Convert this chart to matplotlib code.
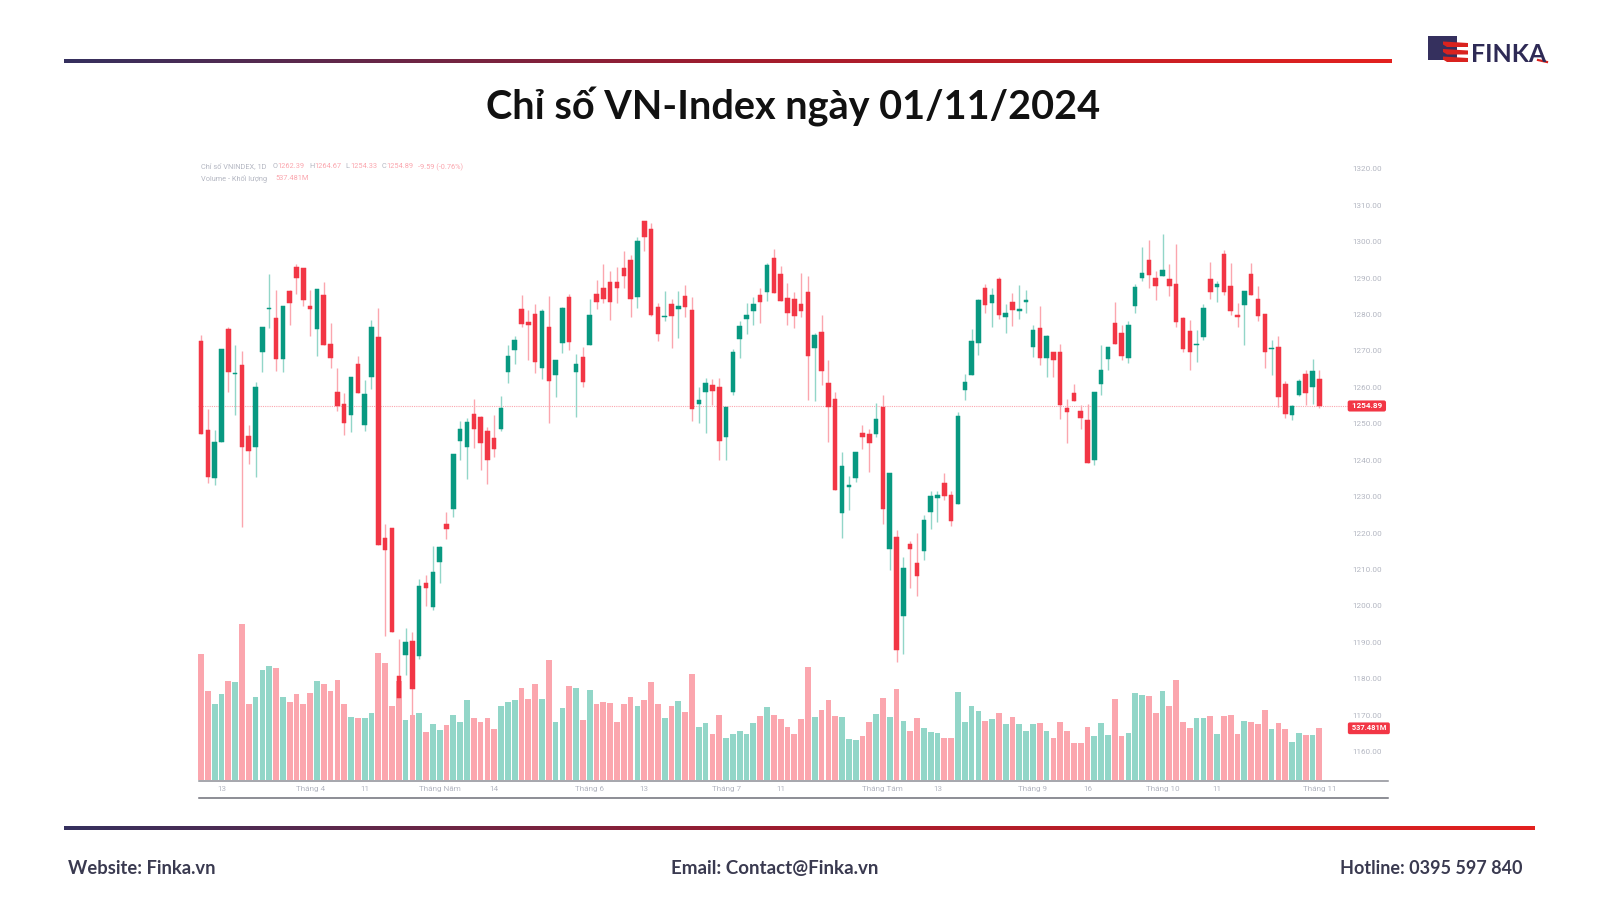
import numpy as np
import matplotlib
matplotlib.use('Agg')
import matplotlib.pyplot as plt
from matplotlib.colors import LinearSegmentedColormap
from matplotlib.patches import Polygon, Rectangle
from matplotlib.transforms import blended_transform_factory

# daily candles
opens = [1272.6, 1248.3, 1235.1, 1245.0, 1276.0, 1263.6, 1266.1, 1246.6, 1243.7, 1269.8, 1281.4, 1279.0, 1267.7, 1286.4, 1293.1,
         1292.7, 1282.3, 1276.1, 1285.3, 1271.9, 1258.6, 1255.4, 1252.3, 1266.4, 1249.8, 1262.8, 1273.9, 1218.6, 1221.4, 1180.8,
         1186.5, 1190.4, 1186.3, 1206.2, 1199.6, 1212.0, 1222.5, 1226.7, 1245.4, 1243.5, 1252.7, 1251.8, 1248.1, 1246.2, 1248.5,
         1264.3, 1270.2, 1281.6, 1277.9, 1280.2, 1265.4, 1276.7, 1263.3, 1272.1, 1284.7, 1264.3, 1268.4, 1271.7, 1285.5, 1287.2,
         1288.8, 1289.0, 1292.7, 1295.0, 1284.9, 1305.7, 1303.4, 1282.1, 1279.2, 1283.0, 1281.6, 1285.1, 1281.2, 1255.5, 1258.8,
         1260.6, 1260.2, 1246.3, 1258.7, 1273.2, 1278.9, 1281.1, 1285.3, 1286.3, 1295.6, 1291.1, 1284.6, 1284.2, 1282.8, 1286.1,
         1270.9, 1275.2, 1261.3, 1256.7, 1225.4, 1232.7, 1235.0, 1247.6, 1247.2, 1247.3, 1254.5, 1215.5, 1219.0, 1197.3, 1217.0,
         1211.7, 1215.1, 1225.8, 1229.7, 1233.7, 1230.5, 1228.1, 1259.3, 1263.5, 1272.1, 1287.4, 1283.1, 1289.7, 1279.3, 1283.4,
         1281.0, 1283.5, 1271.2, 1276.3, 1268.1, 1269.8, 1269.7, 1254.3, 1258.4, 1253.4, 1251.0, 1240.0, 1261.0, 1267.9, 1277.7,
         1275.0, 1268.1, 1282.4, 1289.9, 1294.9, 1290.1, 1290.7, 1289.7, 1288.4, 1279.0, 1275.6, 1271.7, 1273.9, 1289.7, 1287.6,
         1296.5, 1287.8, 1279.9, 1282.5, 1291.1, 1284.2, 1280.2, 1270.4, 1271.2, 1261.0, 1252.5, 1257.8, 1263.6, 1260.2, 1262.39]
highs = [1274.4, 1254.0, 1248.3, 1270.5, 1276.5, 1271.6, 1270.0, 1249.7, 1261.5, 1276.5, 1291.2, 1286.8, 1282.4, 1286.7, 1293.9,
         1292.7, 1286.8, 1287.0, 1288.9, 1277.6, 1265.2, 1258.4, 1262.8, 1268.7, 1261.9, 1278.5, 1281.7, 1222.5, 1221.4, 1190.9,
         1193.9, 1192.7, 1207.4, 1208.4, 1216.5, 1216.5, 1225.7, 1241.8, 1250.8, 1251.7, 1256.7, 1252.2, 1249.2, 1252.4, 1257.7,
         1271.7, 1274.1, 1285.3, 1281.2, 1283.0, 1281.6, 1285.0, 1267.6, 1282.0, 1285.7, 1269.1, 1271.1, 1284.4, 1289.4, 1293.9,
         1292.0, 1293.1, 1297.5, 1296.4, 1301.2, 1305.7, 1305.0, 1283.2, 1286.5, 1284.2, 1286.5, 1288.1, 1284.9, 1260.1, 1262.6,
         1262.4, 1262.6, 1254.5, 1270.5, 1278.1, 1283.1, 1284.8, 1287.2, 1294.1, 1297.9, 1293.3, 1288.6, 1286.3, 1291.5, 1290.7,
         1274.9, 1280.0, 1267.5, 1258.8, 1242.3, 1235.7, 1242.2, 1249.7, 1248.7, 1255.7, 1257.8, 1236.5, 1220.9, 1213.4, 1217.7,
         1220.0, 1225.0, 1231.5, 1231.5, 1236.6, 1231.5, 1253.3, 1263.8, 1276.0, 1284.3, 1288.4, 1287.3, 1290.4, 1283.0, 1285.8,
         1288.1, 1286.8, 1277.0, 1282.3, 1274.3, 1269.8, 1271.9, 1256.7, 1261.0, 1255.1, 1255.4, 1258.8, 1271.7, 1271.2, 1283.4,
         1277.0, 1278.2, 1288.4, 1298.6, 1300.5, 1292.0, 1302.1, 1293.8, 1299.4, 1279.2, 1278.6, 1275.8, 1283.0, 1294.4, 1289.3,
         1297.6, 1294.1, 1283.3, 1286.5, 1294.1, 1287.8, 1280.2, 1273.0, 1274.1, 1261.7, 1255.1, 1262.3, 1264.8, 1267.8, 1264.67]
lows = [1247.1, 1233.7, 1233.3, 1245.0, 1258.7, 1252.4, 1221.6, 1238.9, 1235.5, 1264.2, 1276.4, 1264.5, 1264.3, 1277.0, 1285.5,
        1282.4, 1274.0, 1268.6, 1271.5, 1265.2, 1253.6, 1246.9, 1247.7, 1258.4, 1248.1, 1259.5, 1216.6, 1191.8, 1192.8, 1166.0,
        1181.1, 1169.2, 1185.3, 1200.1, 1198.8, 1206.4, 1218.3, 1224.3, 1240.1, 1234.9, 1243.3, 1237.3, 1233.6, 1241.0, 1248.1,
        1261.2, 1266.3, 1276.5, 1267.4, 1263.9, 1262.3, 1250.3, 1257.3, 1269.5, 1270.2, 1251.9, 1260.1, 1271.7, 1281.4, 1283.2,
        1278.4, 1283.2, 1287.4, 1279.4, 1281.7, 1297.5, 1279.5, 1272.7, 1278.3, 1270.7, 1273.5, 1279.4, 1250.8, 1250.2, 1247.5,
        1255.2, 1240.1, 1240.1, 1258.0, 1268.2, 1274.6, 1277.1, 1277.7, 1283.7, 1285.8, 1283.7, 1277.1, 1276.3, 1279.3, 1256.5,
        1256.3, 1260.7, 1245.0, 1231.7, 1218.6, 1226.2, 1234.1, 1243.0, 1236.9, 1246.3, 1222.5, 1209.8, 1184.5, 1186.8, 1205.0,
        1202.6, 1212.5, 1221.1, 1223.0, 1229.0, 1222.0, 1228.1, 1256.5, 1263.5, 1268.9, 1280.3, 1276.5, 1278.9, 1274.8, 1276.9,
        1278.8, 1280.3, 1268.4, 1266.1, 1262.9, 1262.9, 1251.3, 1244.8, 1256.3, 1248.7, 1239.1, 1238.7, 1258.0, 1264.9, 1272.0,
        1267.4, 1266.6, 1280.5, 1289.2, 1287.3, 1283.9, 1290.7, 1285.2, 1276.5, 1269.8, 1264.8, 1267.1, 1273.0, 1284.2, 1283.5,
        1285.3, 1279.8, 1276.5, 1271.7, 1285.3, 1278.2, 1265.4, 1263.3, 1254.7, 1251.6, 1251.1, 1257.6, 1255.1, 1255.5, 1254.33]
closes = [1247.1, 1235.3, 1244.9, 1270.5, 1264.2, 1263.9, 1243.5, 1242.4, 1260.1, 1276.5, 1281.7, 1267.7, 1282.4, 1283.1, 1290.0,
          1283.9, 1281.4, 1287.0, 1271.5, 1268.1, 1254.8, 1250.2, 1262.8, 1258.4, 1258.1, 1276.7, 1216.6, 1215.4, 1192.8, 1174.7,
          1190.1, 1177.3, 1205.5, 1204.8, 1209.4, 1216.3, 1221.0, 1241.6, 1248.7, 1250.4, 1248.6, 1244.6, 1240.1, 1243.1, 1254.3,
          1268.7, 1273.1, 1277.4, 1277.1, 1266.9, 1281.1, 1261.8, 1267.6, 1281.8, 1272.5, 1266.3, 1261.5, 1280.0, 1283.5, 1284.3,
          1283.4, 1287.4, 1290.6, 1284.3, 1300.3, 1301.3, 1279.9, 1274.6, 1279.5, 1279.7, 1282.3, 1282.0, 1254.0, 1256.6, 1261.1,
          1258.9, 1245.2, 1254.5, 1269.7, 1276.8, 1279.8, 1283.0, 1283.4, 1293.7, 1285.8, 1283.7, 1280.5, 1279.7, 1281.1, 1268.6,
          1274.3, 1264.5, 1254.5, 1231.7, 1238.4, 1233.2, 1242.2, 1246.4, 1244.8, 1251.4, 1226.7, 1236.5, 1187.8, 1210.4, 1215.6,
          1208.1, 1223.7, 1230.2, 1230.4, 1230.2, 1223.3, 1252.2, 1261.4, 1272.6, 1284.0, 1282.7, 1285.3, 1279.8, 1280.5, 1281.3,
          1281.4, 1283.9, 1275.8, 1268.1, 1274.0, 1267.5, 1255.1, 1253.2, 1256.3, 1251.5, 1239.1, 1258.8, 1264.9, 1271.2, 1272.0,
          1268.5, 1277.0, 1287.5, 1291.4, 1290.8, 1287.8, 1292.1, 1287.8, 1278.0, 1270.6, 1269.8, 1272.0, 1281.9, 1286.3, 1288.5,
          1286.2, 1281.0, 1279.3, 1286.5, 1285.4, 1279.7, 1269.8, 1270.8, 1257.4, 1252.6, 1254.9, 1261.7, 1258.5, 1264.4, 1254.89]
# volume in millions
volumes = [1314, 929, 794, 894, 1029, 1016, 1619, 787, 860, 1140, 1189, 1168, 860, 808, 894,
           794, 908, 1033, 1002, 929, 1043, 794, 655, 641, 648, 700, 1324, 1220, 773, 1026,
           620, 679, 693, 496, 579, 520, 575, 672, 600, 828, 648, 600, 641, 534, 766,
           815, 835, 960, 846, 995, 842, 1248, 607, 749, 974, 960, 620, 932, 794, 815,
           801, 607, 787, 867, 773, 835, 1016, 787, 641, 773, 821, 707, 1099, 555, 593,
           475, 672, 440, 475, 506, 482, 593, 669, 759, 679, 631, 548, 475, 634, 1175,
           652, 728, 832, 662, 652, 423, 416, 458, 600, 686, 849, 652, 943, 613, 506,
           641, 541, 496, 485, 440, 433, 915, 607, 769, 714, 613, 631, 693, 586, 652,
           579, 506, 586, 596, 513, 433, 600, 513, 381, 381, 548, 458, 593, 471, 839,
           454, 492, 901, 887, 873, 693, 922, 769, 1040, 607, 541, 648, 641, 665, 478,
           665, 672, 478, 613, 607, 579, 724, 534, 593, 527, 399, 485, 471, 464, 537.481]

price_ticks = list(range(1160, 1330, 10))
date_ticks = [3, 16, 24, 35, 43, 57, 65, 77, 85, 100, 108, 122, 130, 141, 149, 164]
date_labels = ['13', 'Tháng 4', '11', 'Tháng Năm', '14', 'Tháng 6', '13', 'Tháng 7', '11',
               'Tháng Tám', '13', 'Tháng 9', '16', 'Tháng 10', '11', 'Tháng 11']

RED = '#f23645'
GREEN = '#089981'
RED_SOFT = '#fba6ae'
GREEN_SOFT = '#92d6c8'
GREY = '#b4b7c2'
TEXT_FONT = ['Lato', 'Noto Sans', 'DejaVu Sans']
SMALL_FONT = ['Roboto', 'DejaVu Sans']

opens = np.array(opens)
highs = np.array(highs)
lows = np.array(lows)
closes = np.array(closes)
volumes = np.array(volumes)
x = np.arange(len(opens))
down = closes < opens

fig = plt.figure(figsize=(16, 9), dpi=100, facecolor='white')


def box(left, top, right, bottom):
    # pixel box of the 1600x900 canvas to figure fractions
    return [left / 1600, 1 - bottom / 900, (right - left) / 1600, (bottom - top) / 900]


# volume sits behind the candles
ax_vol = fig.add_axes(box(198, 155, 1348, 780))
ax_vol.bar(x, volumes, width=0.84, color=np.where(down, RED_SOFT, GREEN_SOFT), linewidth=0)
ax_vol.set_xlim(-0.44, 168.2)
ax_vol.set_ylim(0, 6497)
ax_vol.axis('off')

ax = fig.add_axes(box(198, 155, 1348, 780))
ax.patch.set_alpha(0)
ax.vlines(x, lows, highs, colors=np.where(down, RED_SOFT, GREEN_SOFT), linewidth=1.0, zorder=2)
ax.bar(x, np.abs(closes - opens), bottom=np.minimum(opens, closes), width=0.66,
       color=np.where(down, RED, GREEN), edgecolor=np.where(down, RED, GREEN), linewidth=0.35, zorder=3)
ax.axhline(closes[-1], color=RED_SOFT, linewidth=0.8, linestyle=(0, (1, 1)), zorder=1)
ax.set_xlim(-0.44, 168.2)
ax.set_ylim(1152.2, 1323.8)

for side in ['top', 'left', 'right', 'bottom']:
    ax.spines[side].set_visible(False)
ax.yaxis.tick_right()
ax.set_yticks(price_ticks)
ax.set_yticklabels(['%.2f' % p for p in price_ticks])
ax.set_xticks(date_ticks)
ax.set_xticklabels(date_labels)
ax.tick_params(axis='y', length=0, pad=3.4, labelsize=5.9, labelcolor=GREY)
ax.tick_params(axis='x', length=0, pad=4.0, labelsize=5.9, labelcolor=GREY)
for label in ax.get_xticklabels() + ax.get_yticklabels():
    label.set_family(SMALL_FONT)

# last price / last volume tags on the scale
trans = blended_transform_factory(ax.transAxes, ax.transData)
ax.text(1.0015, closes[-1], ' %.2f ' % closes[-1], transform=trans, ha='left', va='center', color='white',
        fontsize=5.9, fontweight='bold', family=SMALL_FONT, clip_on=False, zorder=5,
        bbox=dict(boxstyle='round,pad=0.25', fc=RED, ec='none'))
trans_vol = blended_transform_factory(ax_vol.transAxes, ax_vol.transData)
ax.text(1.0015, volumes[-1], ' 537.481M ', transform=trans_vol, ha='left', va='center', color='white',
        fontsize=5.4, fontweight='bold', family=SMALL_FONT, clip_on=False, zorder=5,
        bbox=dict(boxstyle='round,pad=0.25', fc=RED, ec='none'))

# everything around the chart, in canvas pixels
page = fig.add_axes([0, 0, 1, 1])
page.patch.set_alpha(0)
page.axis('off')

rule_cmap = LinearSegmentedColormap.from_list('rule', ['#35305e', '#a01c2e', '#e3211f'])
ramp = np.linspace(0, 1, 512).reshape(1, -1)
page.imshow(ramp, cmap=rule_cmap, extent=(64, 1392, 63, 59), aspect='auto')
page.imshow(ramp, cmap=rule_cmap, extent=(64, 1535, 830, 826), aspect='auto')
page.plot([199, 1388], [780.5, 780.5], color='#8d8e96', linewidth=1.1)
page.plot([199, 1388], [798, 798], color='#6e6f78', linewidth=1.1)

page.text(793, 107, 'Chỉ số VN-Index ngày 01/11/2024', ha='center', va='center', fontsize=28.5,
          fontweight='bold', color='#111111', family=TEXT_FONT)
page.text(68, 869, 'Website: Finka.vn', ha='left', va='center', fontsize=13.2, fontweight='bold',
          color='#3a3a50', family=TEXT_FONT)
page.text(775, 869, 'Email: Contact@Finka.vn', ha='center', va='center', fontsize=13.5, fontweight='bold',
          color='#3a3a50', family=TEXT_FONT)
page.text(1522, 869, 'Hotline: 0395 597 840', ha='right', va='center', fontsize=13, fontweight='bold',
          color='#3a3a50', family=TEXT_FONT)

# legend lines of the chart
line1 = [(201, 'Chỉ số VNINDEX, 1D', GREY), (272.5, 'O', GREY), (277.5, '1262.39', RED_SOFT), (309, 'H', GREY),
         (314, '1264.67', RED_SOFT), (345.5, 'L', GREY), (350, '1254.33', RED_SOFT), (381.5, 'C', GREY),
         (386, '1254.89', RED_SOFT), (417.5, '-9.59 (-0.76%)', RED_SOFT)]
for px, txt, col in line1:
    page.text(px, 167, txt, ha='left', va='center', fontsize=5.3, color=col, family=SMALL_FONT)
page.text(201, 179, 'Volume - Khối lượng', ha='left', va='center', fontsize=5.3, color=GREY, family=SMALL_FONT)
page.text(275, 179, '537.481M', ha='left', va='center', fontsize=5.3, color=RED_SOFT, family=SMALL_FONT)

# logo
page.add_patch(Rectangle((1428, 36), 29, 24, fc='#35305e', ec='none'))
for top in [41.5, 49, 56.5]:
    page.add_patch(Polygon([(1443, top), (1468, top + 1.5), (1468, top + 5.5), (1447, top + 5.5), (1443, top + 3)],
                           fc='#d9231f', ec='none'))
page.text(1471, 54, 'FINKA', ha='left', va='center', fontsize=18, fontweight='bold', color='#2e2a55',
          family=TEXT_FONT)
page.plot([1538, 1547], [60, 62], color='#d9231f', linewidth=1.6)

page.set_xlim(0, 1600)
page.set_ylim(900, 0)

fig.savefig('out.png', dpi=100)
